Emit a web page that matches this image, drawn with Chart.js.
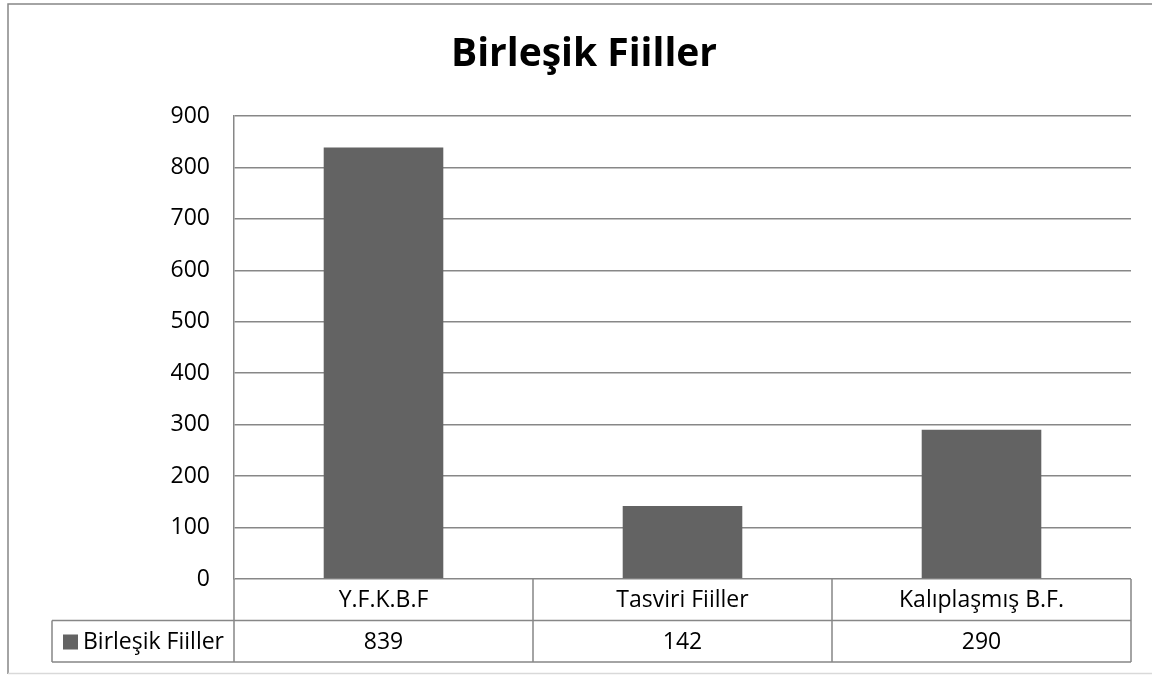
<!DOCTYPE html>
<html>
<head>
<meta charset="utf-8">
<script src="https://cdn.jsdelivr.net/npm/chart.js@4/dist/chart.umd.min.js"></script>
<style>
  html, body { margin: 0; padding: 0; background: #fff; }
  #wrap { width: 1152px; height: 675px; }
</style>
</head>
<body>
<div id="wrap"><canvas id="chart"></canvas></div>
<script>
const title = "Birleşik Fiiller";
const seriesName = "Birleşik Fiiller";
const categories = ["Y.F.K.B.F", "Tasviri Fiiller", "Kalıplaşmış B.F."];
const values = [839, 142, 290];
const yTicks = [0, 100, 200, 300, 400, 500, 600, 700, 800, 900];

const lineColor = "#878787";
const barColor = "#636363";
const font = "'Open Sans', sans-serif";

// outer frame of the chart
const framePlugin = {
    id: "frame",
    beforeDraw(chart) {
        const ctx = chart.ctx;
        ctx.save();
        ctx.lineWidth = 1.5;
        ctx.strokeStyle = lineColor;
        ctx.beginPath();
        ctx.moveTo(8, 674);
        ctx.lineTo(8, 4);
        ctx.lineTo(1152, 4);
        ctx.stroke();
        ctx.strokeStyle = "#d9d9d9";
        ctx.beginPath();
        ctx.moveTo(8, 673.5);
        ctx.lineTo(1152, 673.5);
        ctx.stroke();
        ctx.restore();
    }
};

// data table under the plot
const tablePlugin = {
    id: "dataTable",
    afterDraw(chart) {
        const ctx = chart.ctx;
        const x = chart.scales.x;
        const area = chart.chartArea;
        const catW = (area.right - area.left) / categories.length;
        const rowH = 41.5;
        const top = area.bottom;
        const mid = top + rowH;
        const bottom = mid + rowH;
        const legendLeft = 52;

        ctx.save();
        ctx.strokeStyle = lineColor;
        ctx.lineWidth = 1.5;
        ctx.beginPath();
        ctx.moveTo(legendLeft, mid); ctx.lineTo(area.right, mid);
        ctx.moveTo(legendLeft, bottom); ctx.lineTo(area.right, bottom);
        ctx.moveTo(legendLeft, mid); ctx.lineTo(legendLeft, bottom);
        for (let i = 0; i <= categories.length; i++) {
            const px = area.left + i * catW;
            ctx.moveTo(px, top); ctx.lineTo(px, bottom);
        }
        ctx.stroke();

        ctx.fillStyle = "#000";
        ctx.font = "23px " + font;
        ctx.textAlign = "center";
        ctx.textBaseline = "middle";
        categories.forEach((c, i) => {
            const cx = x.getPixelForValue(i);
            ctx.fillText(c, cx, top + rowH / 2 + 1);
            ctx.fillText(String(values[i]), cx, mid + rowH / 2 + 1);
        });

        // legend key
        ctx.fillStyle = barColor;
        ctx.fillRect(63, mid + 14, 15, 15);
        ctx.fillStyle = "#000";
        ctx.textAlign = "left";
        ctx.fillText(seriesName, 83, mid + rowH / 2 + 1);
        ctx.restore();
    }
};

new Chart(document.getElementById("chart"), {
    type: "bar",
    data: {
        labels: categories,
        datasets: [{
            label: seriesName,
            data: values,
            backgroundColor: barColor,
            barPercentage: 0.4,
            categoryPercentage: 1
        }]
    },
    options: {
        responsive: true,
        maintainAspectRatio: false,
        animation: false,
        layout: { padding: { top: 0, left: 37, right: 21, bottom: 96 } },
        plugins: {
            legend: { display: false },
            tooltip: { enabled: false },
            title: {
                display: true,
                text: title,
                color: "#000",
                font: { family: font, size: 39, weight: "bold", lineHeight: 1.2 },
                padding: { top: 31, bottom: 38.2 }
            }
        },
        scales: {
            x: { display: false },
            y: {
                min: 0,
                max: 900,
                afterFit(scale) { scale.width = 197; },
                afterBuildTicks(scale) { scale.ticks = yTicks.map(v => ({ value: v })); },
                ticks: {
                    color: "#000",
                    padding: 24,
                    font: { family: font, size: 23 }
                },
                grid: { color: lineColor, lineWidth: 1.5, drawTicks: false },
                border: { color: lineColor, width: 1.5 }
            }
        }
    },
    plugins: [framePlugin, tablePlugin]
});
</script>
</body>
</html>
